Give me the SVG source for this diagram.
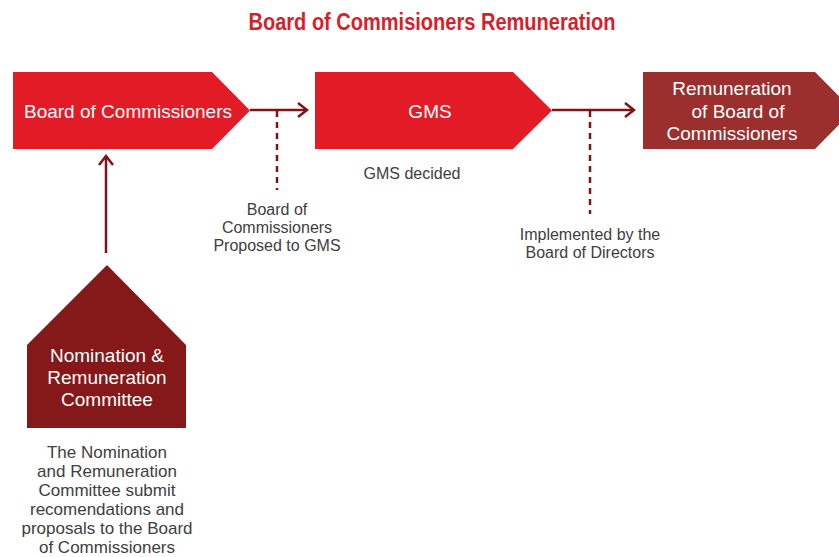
<svg xmlns="http://www.w3.org/2000/svg" width="839" height="557" viewBox="0 0 839 557">
<style>
.title{font-family:"Liberation Sans Narrow","Liberation Sans",sans-serif;font-weight:bold;font-size:23px;fill:#d71f2a;text-anchor:middle}
.nt{font-family:"Liberation Sans",Arial,sans-serif;font-size:19px;fill:#ffffff;text-anchor:middle}
.lb{font-family:"Liberation Sans",Arial,sans-serif;font-size:16px;fill:#404040;text-anchor:middle}
.lb2{font-family:"Liberation Sans",Arial,sans-serif;font-size:17px;fill:#404040;text-anchor:middle}
.con{stroke:#7d1416;stroke-width:2.5;fill:none}
.dash{stroke:#7d1416;stroke-width:2.5;fill:none;stroke-dasharray:6,5}
</style>
<defs>
<marker id="ah" viewBox="0 0 12 16" refX="10" refY="8" markerWidth="12" markerHeight="16" markerUnits="userSpaceOnUse" orient="auto">
<path d="M1,1 L10,8 L1,15" fill="none" stroke="#7d1416" stroke-width="2.5"/>
</marker>
</defs>
<rect width="839" height="557" fill="#ffffff"/>
<text class="title" x="432" y="30" textLength="367" lengthAdjust="spacingAndGlyphs">Board of Commisioners Remuneration</text>
<g id="connectors">
<line class="con" x1="250" y1="110" x2="307" y2="110" marker-end="url(#ah)"/>
<line class="dash" x1="277" y1="111" x2="277" y2="190"/>
<line class="con" x1="552" y1="110" x2="634" y2="110" marker-end="url(#ah)"/>
<line class="dash" x1="590" y1="111" x2="590" y2="214"/>
<line class="con" x1="106" y1="253" x2="106" y2="156" marker-end="url(#ah)"/>
</g>
<g id="board">
<polygon points="13,72 212,72 250,110.5 212,149 13,149" fill="#e31b27"/>
<text class="nt" x="128" y="118">Board of Commissioners</text>
</g>
<g id="gms">
<polygon points="315,72 513,72 552,110.5 513,149 315,149" fill="#e31b27"/>
<text class="nt" x="430" y="118">GMS</text>
</g>
<g id="remuneration">
<polygon points="643,72 815,72 853,110.5 815,149 643,149" fill="#9a2f2e"/>
<text class="nt" x="732" y="95">Remuneration</text>
<text class="nt" x="738" y="118">of Board of</text>
<text class="nt" x="732" y="140">Commissioners</text>
</g>
<g id="nomination">
<polygon points="107,265 186,345 186,428 27,428 27,345" fill="#851818"/>
<text class="nt" x="107" y="362">Nomination &amp;</text>
<text class="nt" x="107" y="384">Remuneration</text>
<text class="nt" x="107" y="406">Committee</text>
</g>
<g id="labels">
<text class="lb" x="412" y="179">GMS decided</text>
<text class="lb" x="277" y="215">Board of</text>
<text class="lb" x="277" y="233">Commissioners</text>
<text class="lb" x="277" y="251">Proposed to GMS</text>
<text class="lb" x="590" y="240">Implemented by the</text>
<text class="lb" x="590" y="258">Board of Directors</text>
<text class="lb2" x="107" y="458">The Nomination</text>
<text class="lb2" x="107" y="477">and Remuneration</text>
<text class="lb2" x="107" y="496">Committee submit</text>
<text class="lb2" x="107" y="515">recomendations and</text>
<text class="lb2" x="107" y="534">proposals to the Board</text>
<text class="lb2" x="107" y="553">of Commissioners</text>
</g>
</svg>
